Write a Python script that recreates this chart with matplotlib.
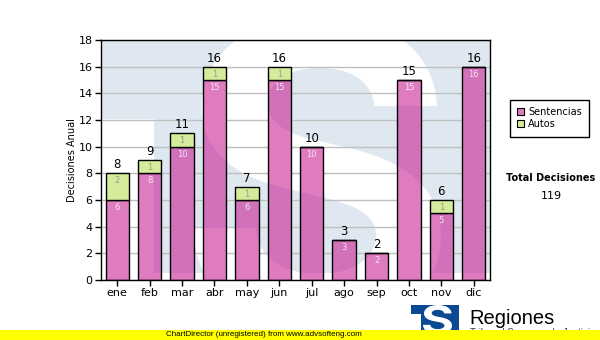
import matplotlib
matplotlib.use("Agg")
import matplotlib.pyplot as plt
import numpy as np
from matplotlib.patches import Rectangle, PathPatch
from matplotlib.textpath import TextPath
from matplotlib.font_manager import FontProperties
from matplotlib.transforms import Affine2D

# ---- data -------------------------------------------------------------
months = ["ene", "feb", "mar", "abr", "may", "jun",
          "jul", "ago", "sep", "oct", "nov", "dic"]
sentencias = [6, 8, 10, 15, 6, 15, 10, 3, 2, 15, 5, 16]
autos = [2, 1, 1, 1, 1, 1, 0, 0, 0, 0, 1, 0]
series_labels = ["Sentencias", "Autos"]
y_ticks = list(range(0, 19, 2))

# ---- style ------------------------------------------------------------
PINK = (196 / 255, 8 / 255, 136 / 255, 0.53)
PINK_SOLID = "#e07cc0"
GREEN = "#d5ec9a"
WM_BLUE = "#dfe8f1"
GRID = "#c0c0c0"

W, H = 600, 340
fig = plt.figure(figsize=(W / 100, H / 100), dpi=100)
fig.patch.set_facecolor("white")


def fx(px):
    return px / W


def fy(py):
    return 1 - py / H


AX_L, AX_R, AX_T, AX_B = 101, 490, 40, 280
ax = fig.add_axes([fx(AX_L), fy(AX_B), (AX_R - AX_L) / W, (AX_B - AX_T) / H])
ax.set_facecolor("white")


def ax_x(px):
    return (px - AX_L) / (AX_R - AX_L)


def ax_y(py):
    return (AX_B - py) / (AX_B - AX_T)


x = np.arange(len(months))
total = np.array(sentencias) + np.array(autos)
bar_w = 0.72


def fitted_glyph(ch, x0, x1, y0, y1, family="DejaVu Sans", weight="bold"):
    tp = TextPath((0, 0), ch, size=1,
                  prop=FontProperties(family=family, weight=weight))
    ext = tp.get_extents()
    tr = (Affine2D().translate(-ext.x0, -ext.y0)
          .scale((x1 - x0) / ext.width, (y1 - y0) / ext.height)
          .translate(x0, y0))
    return tr.transform_path(tp)


# big logo letter behind the plot, cut by the logo square
S_PATH = fitted_glyph("S", ax_x(193), ax_x(441), ax_y(326), ax_y(16), family="Inter")
WM_BOX = Rectangle((ax_x(154), ax_y(273)), 1 - ax_x(154), 1 - ax_y(273),
                   transform=ax.transAxes)


def watermark(z, clip=None):
    band = Rectangle((0, ax_y(119)), 1, 1 - ax_y(119), transform=ax.transAxes,
                     facecolor=WM_BLUE, edgecolor="none", zorder=z)
    square = Rectangle((ax_x(154), ax_y(273)), 1 - ax_x(154), 1 - ax_y(273),
                       transform=ax.transAxes, facecolor=WM_BLUE,
                       edgecolor="none", zorder=z)
    letter = PathPatch(S_PATH, transform=ax.transAxes,
                       facecolor="white", edgecolor="none", zorder=z + 0.02)
    for a in (band, square, letter):
        ax.add_patch(a)
        if clip is not None:
            a.set_clip_path(clip)
    if clip is None:
        letter.set_clip_path(WM_BOX)
    return band, square, letter


# background logo watermark
watermark(0.1)

ax.set_axisbelow(True)
ax.yaxis.grid(True, color=GRID, linewidth=1)

# opaque underlay hides grid lines behind the translucent bars
under = ax.bar(x, sentencias, width=bar_w, color="white", edgecolor="none", zorder=1)
for rect in under:
    watermark(1.1, clip=rect)
# keep the letter inside the logo square within the bars as well
for rect in under:
    strip = Rectangle((0, 0), 1, ax_y(273), transform=ax.transAxes,
                      facecolor="white", edgecolor="none", zorder=1.15)
    ax.add_patch(strip)
    strip.set_clip_path(rect)

bars_s = ax.bar(x, sentencias, width=bar_w, color=PINK, edgecolor="black",
                linewidth=1, zorder=2)
bars_a = ax.bar(x, autos, width=bar_w, bottom=sentencias, color=GREEN,
                edgecolor="black", linewidth=1, zorder=2)

# value labels
for i in range(len(months)):
    ax.annotate(str(total[i]), (x[i], total[i]), xytext=(0, 1.5),
                textcoords="offset points", ha="center", va="bottom",
                fontsize=8.5, color="black", zorder=5)
    ax.annotate(str(sentencias[i]), (x[i], sentencias[i]), xytext=(0, -5.5),
                textcoords="offset points", ha="center", va="center",
                fontsize=6, color="#f6e6f2", zorder=5)
    if autos[i] > 0:
        ax.annotate(str(autos[i]), (x[i], total[i]), xytext=(0, -5.5),
                    textcoords="offset points", ha="center", va="center",
                    fontsize=6, color="#9a9a8a", zorder=5)

ax.set_xlim(-0.5, len(months) - 0.5)
ax.set_ylim(0, 18)
ax.set_yticks(y_ticks)
ax.set_xticks(x)
ax.set_xticklabels(months)
ax.tick_params(axis="both", direction="out", length=4, width=1,
               labelsize=8, pad=2, colors="black")
for sp in ax.spines.values():
    sp.set_linewidth(1)
    sp.set_color("black")
    sp.set_zorder(6)

ax.set_ylabel("Decisiones Anual", fontsize=7, labelpad=1)

# legend
handles = [Rectangle((0, 0), 1, 1, facecolor=PINK_SOLID, edgecolor="black", linewidth=0.8),
           Rectangle((0, 0), 1, 1, facecolor=GREEN, edgecolor="black", linewidth=0.8)]
leg = ax.legend(handles, series_labels, loc="upper left",
                bbox_to_anchor=(fx(510), fy(100)), bbox_transform=fig.transFigure,
                frameon=True, fancybox=False, edgecolor="black", framealpha=1,
                fontsize=7, handlelength=0.7, handleheight=0.7, handletextpad=0.4,
                borderpad=0.75, labelspacing=0.2, borderaxespad=0)
leg.get_frame().set_linewidth(1)

fig.text(fx(551), fy(178), "Total Decisiones", ha="center", va="center",
         fontsize=7, fontweight="bold")
fig.text(fx(551), fy(196), str(int(total.sum())), ha="center", va="center",
         fontsize=8)

# footer logo
fig.add_artist(Rectangle((fx(411), fy(332)), (459 - 411) / W, (332 - 305) / H,
                         transform=fig.transFigure, facecolor="#0b4a92",
                         edgecolor="none", zorder=3))
fig.add_artist(Rectangle((fx(411), fy(332)), (421 - 411) / W, (332 - 314) / H,
                         transform=fig.transFigure, facecolor="white",
                         edgecolor="none", zorder=3.1))
logo_s = fitted_glyph("S", 0, 1, 0, 1, family="Inter")
logo_tr = Affine2D().scale((452 - 423) / W, (334 - 305) / H).translate(fx(423), fy(334))
logo_clip = Rectangle((fx(411), fy(332)), (459 - 411) / W, (332 - 305) / H,
                      transform=fig.transFigure)
logo_patch = PathPatch(logo_tr.transform_path(logo_s), transform=fig.transFigure,
                       facecolor="white", edgecolor="none", zorder=3.2)
fig.add_artist(logo_patch)
logo_patch.set_clip_path(logo_clip)
fig.text(fx(469), fy(324), "Regiones", ha="left", va="baseline",
         fontsize=14.5, family="Liberation Sans", zorder=3)
fig.text(fx(470), fy(336), "Tribunal Supremo de Justicia", ha="left", va="baseline",
         fontsize=7, family="Liberation Sans", color="#404040", zorder=3)

# footer banner
fig.add_artist(Rectangle((0, 0), 1, 10 / H, transform=fig.transFigure,
                         facecolor="#ffff00", edgecolor="none", zorder=4))
fig.text(fx(166), fy(335), "ChartDirector (unregistered) from www.advsofteng.com",
         ha="left", va="center", fontsize=5.8, family="Liberation Sans",
         color="black", zorder=5)

fig.savefig("out.png", dpi=100, facecolor="white")
